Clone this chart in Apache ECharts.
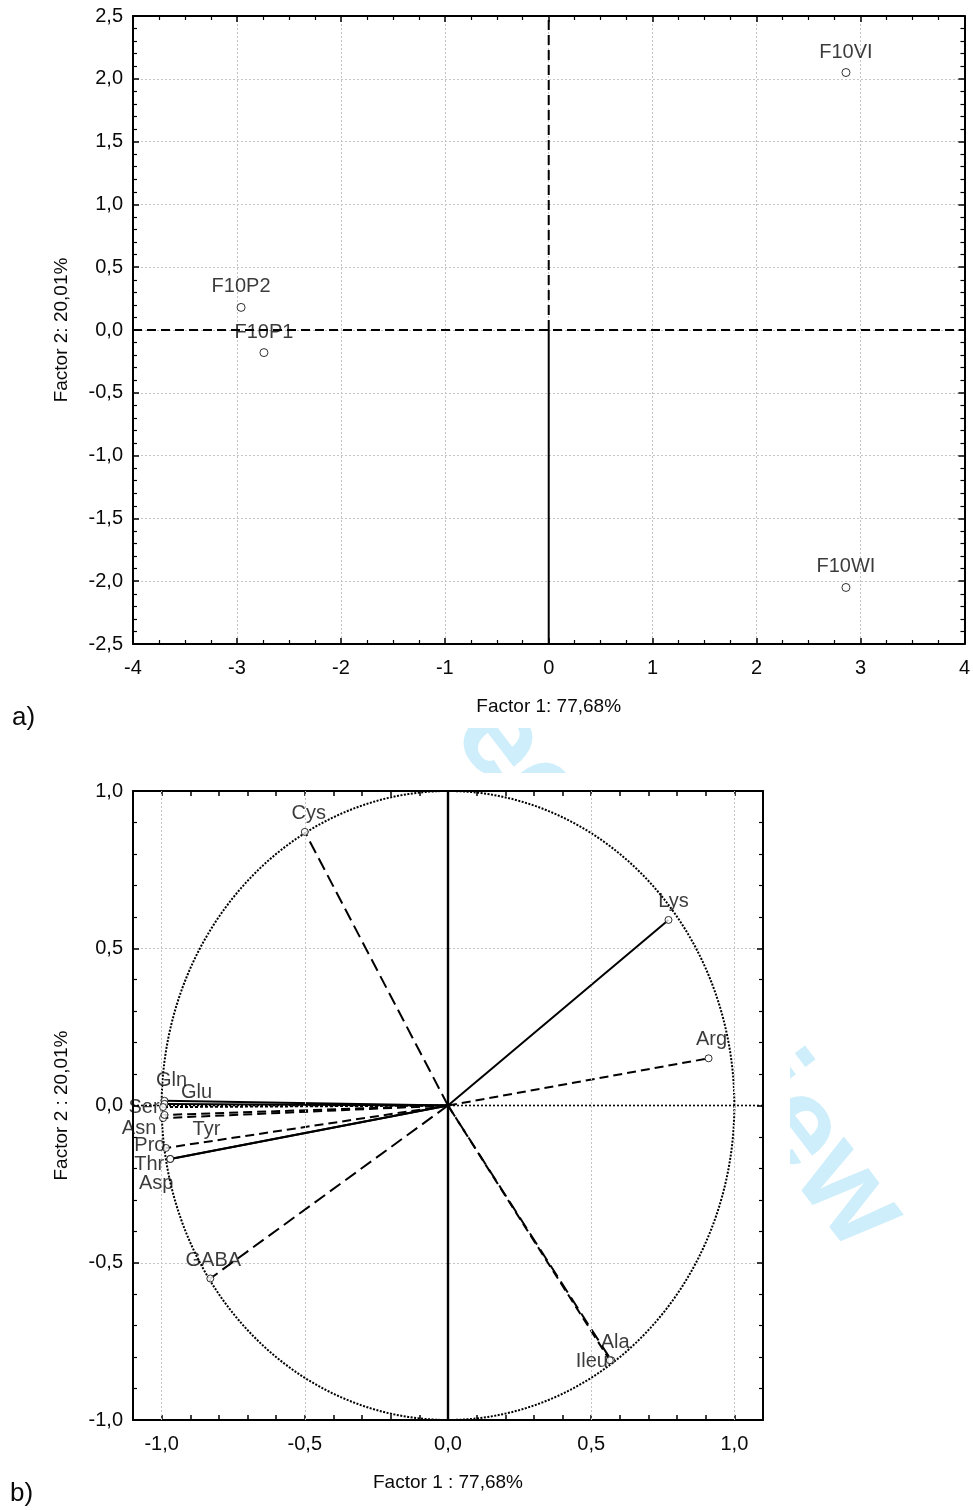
<!DOCTYPE html>
<html>
<head>
<meta charset="utf-8">
<script src="https://cdn.jsdelivr.net/npm/echarts@6/dist/echarts.min.js"></script>
<style>
  html, body { margin: 0; padding: 0; background: #fff; }
  #chart { width: 973px; height: 1510px; }
</style>
</head>
<body>
<div id="chart"></div>
<script>
// ---- Panel a: factor scores of the samples ----
const scoreNames = ['F10P2', 'F10P1', 'F10VI', 'F10WI'];
const scoreF1 = [-2.96, -2.74, 2.86, 2.86];
const scoreF2 = [0.18, -0.18, 2.05, -2.05];

// ---- Panel b: loadings of the amino acids ----
const varNames = ['Cys', 'Lys', 'Arg', 'Ala', 'Ileu', 'GABA', 'Gln', 'Glu', 'Ser', 'Asn', 'Tyr', 'Pro', 'Thr', 'Asp'];
const loadF1 = [-0.50, 0.77, 0.91, 0.57, 0.565, -0.83, -0.99, -0.99, -0.995, -0.995, -0.99, -0.985, -0.97, -0.97];
const loadF2 = [0.87, 0.59, 0.15, -0.81, -0.81, -0.55, 0.015, 0.005, -0.005, -0.04, -0.03, -0.135, -0.17, -0.17];

// Axis ranges and ticks
const xRangeA = [-4, 4], yRangeA = [-2.5, 2.5];
const xRangeB = [-1.1, 1.1], yRangeB = [-1, 1];
const xGridB = [-1, -0.5, 0.5, 1];

// Dash pattern of each loading vector
const vecDash = {
  Cys: [13, 6], Lys: 'solid', Arg: [9, 5], Ala: [13, 6], Ileu: [9, 5], GABA: [13, 6],
  Gln: 'solid', Glu: 'solid', Ser: [3, 2], Asn: [9, 5], Tyr: [9, 5], Pro: [9, 5], Thr: 'solid', Asp: 'solid'
};
// Label placement of each loading (offset from the marker centre)
const vecLabelOffset = {
  Cys: [4, -18], Lys: [5, -18], Arg: [3, -19], Ala: [4, -18], Ileu: [-18, 1], GABA: [3, -18],
  Gln: [7, -20], Glu: [32, -11], Ser: [-19, 0], Asn: [-24, 10], Tyr: [42, 15], Pro: [-16, -2],
  Thr: [-21, 6], Asp: [-14, 25]
};

const FONT = '"Liberation Sans", Arial, Helvetica, sans-serif';
const black = '#000';
const textColor = '#0a0a0a';
const gridLine = { show: true, lineStyle: { color: '#c4c4c4', type: [2, 2], width: 1 } };
const comma1 = v => v.toFixed(1).replace('.', ',');

function frame(extra) {
  return Object.assign({
    type: 'value',
    axisLine: { show: true, onZero: false, lineStyle: { color: black, width: 2 } },
    axisTick: { show: true, inside: true, length: 6, lineStyle: { color: black, width: 1.5 } },
    minorTick: { show: false },
    splitLine: { show: false },
    axisLabel: { show: false },
    nameTextStyle: { fontFamily: FONT, fontSize: 19, color: textColor }
  }, extra);
}
const tickLabel = (fmt, margin) => ({ show: true, formatter: fmt, fontFamily: FONT, fontSize: 20, color: textColor, margin: margin });
const minor = n => ({ show: true, splitNumber: n, length: 4, lineStyle: { color: black, width: 1.2 } });

const chart = echarts.init(document.getElementById('chart'), null, { renderer: 'canvas' });

const series = [];

// ----- panel a -----
series.push({
  type: 'line', xAxisIndex: 0, yAxisIndex: 0, z: 3, symbol: 'none', silent: true,
  lineStyle: { color: black, width: 2, type: [10, 5] },
  data: [[0, 0], [0, yRangeA[1]]]
});
series.push({
  type: 'line', xAxisIndex: 0, yAxisIndex: 0, z: 3, symbol: 'none', silent: true,
  lineStyle: { color: black, width: 2, type: 'solid' },
  data: [[0, yRangeA[0]], [0, 0]]
});
series.push({
  type: 'line', xAxisIndex: 0, yAxisIndex: 0, z: 3, symbol: 'none', silent: true,
  lineStyle: { color: black, width: 2, type: [9, 5] },
  data: [[xRangeA[0], 0], [xRangeA[1], 0]]
});
series.push({
  type: 'scatter', xAxisIndex: 0, yAxisIndex: 0, z: 6,
  symbol: 'circle', symbolSize: 8,
  itemStyle: { color: '#fff', borderColor: black, borderWidth: 1 },
  label: { show: true, position: 'top', distance: 6, fontFamily: FONT, fontSize: 20, color: textColor,
           formatter: p => scoreNames[p.dataIndex] },
  data: scoreF1.map((x, i) => [x, scoreF2[i]])
});

// ----- panel b -----
// horizontal zero line, plus dotted vertical grid lines at the labelled x ticks
series.push({
  type: 'line', xAxisIndex: 2, yAxisIndex: 2, z: 1, symbol: 'none', silent: true,
  lineStyle: { color: black, width: 1.6, type: [2, 2] },
  data: [[xRangeB[0], 0], [xRangeB[1], 0]],
  markLine: {
    silent: true, symbol: 'none', label: { show: false }, animation: false,
    lineStyle: { color: '#c4c4c4', type: [2, 2], width: 1 },
    data: xGridB.map(v => ({ xAxis: v }))
  }
});
series.push({
  type: 'line', xAxisIndex: 2, yAxisIndex: 2, z: 3, symbol: 'none', silent: true,
  lineStyle: { color: black, width: 2.4, type: 'solid' },
  data: [[0, yRangeB[0]], [0, yRangeB[1]]]
});
// unit correlation circle, drawn in data space through the axes
series.push({
  type: 'custom', xAxisIndex: 2, yAxisIndex: 2, z: 3, silent: true,
  data: [[0, 0]],
  renderItem: (params, api) => {
    const c = api.coord([0, 0]);
    const rx = api.coord([1, 0])[0] - c[0];
    const ry = c[1] - api.coord([0, 1])[1];
    const pts = [];
    for (let i = 0; i <= 360; i++) {
      const t = i * Math.PI / 180;
      pts.push([c[0] + rx * Math.cos(t), c[1] - ry * Math.sin(t)]);
    }
    return { type: 'polyline', shape: { points: pts },
             style: { stroke: black, lineWidth: 2, lineDash: [2, 1.5], fill: 'none' } };
  }
});
varNames.forEach((n, i) => {
  series.push({
    type: 'line', xAxisIndex: 2, yAxisIndex: 2, z: 4, symbol: 'none', silent: true,
    lineStyle: { color: black, width: 2, type: vecDash[n] },
    data: [[0, 0], [loadF1[i], loadF2[i]]]
  });
});
series.push({
  type: 'scatter', xAxisIndex: 2, yAxisIndex: 2, z: 6,
  symbol: 'circle', symbolSize: 7,
  itemStyle: { color: '#fff', borderColor: black, borderWidth: 1 },
  label: { show: true, position: 'inside', fontFamily: FONT, fontSize: 20, color: textColor,
           formatter: p => varNames[p.dataIndex] },
  data: varNames.map((n, i) => ({
    value: [loadF1[i], loadF2[i]],
    label: { offset: vecLabelOffset[n] }
  }))
});

const option = {
  animation: false,
  backgroundColor: '#fff',
  grid: [
    { left: 133, top: 16, width: 835, height: 628, show: true, backgroundColor: '#fff', borderWidth: 0 },
    { left: 133, top: 791, width: 630, height: 629, show: true, backgroundColor: '#fff', borderWidth: 0 }
  ],
  xAxis: [
    frame({ gridIndex: 0, position: 'bottom', min: xRangeA[0], max: xRangeA[1], interval: 1,
            minorTick: minor(4), splitLine: gridLine, axisLabel: tickLabel(v => String(v), 14),
            name: 'Factor 1: 77,68%', nameLocation: 'middle', nameGap: 53 }),
    frame({ gridIndex: 0, position: 'top', min: xRangeA[0], max: xRangeA[1], interval: 1,
            minorTick: minor(4) }),
    frame({ gridIndex: 1, position: 'bottom', min: xRangeB[0], max: xRangeB[1], interval: 0.1,
            axisTick: { show: true, inside: true, length: 5, lineStyle: { color: black, width: 1.5 } },
            axisLabel: tickLabel(v => (Math.abs(v * 2 - Math.round(v * 2)) < 1e-6 ? comma1(v) : ''), 14),
            name: 'Factor 1 : 77,68%', nameLocation: 'middle', nameGap: 53 }),
    frame({ gridIndex: 1, position: 'top', min: xRangeB[0], max: xRangeB[1], interval: 0.1,
            axisTick: { show: true, inside: true, length: 5, lineStyle: { color: black, width: 1.5 } } })
  ],
  yAxis: [
    frame({ gridIndex: 0, position: 'left', min: yRangeA[0], max: yRangeA[1], interval: 0.5,
            minorTick: minor(5), splitLine: gridLine, axisLabel: tickLabel(comma1, 10),
            name: 'Factor 2: 20,01%', nameLocation: 'middle', nameGap: 62, nameRotate: 90 }),
    frame({ gridIndex: 0, position: 'right', min: yRangeA[0], max: yRangeA[1], interval: 0.5,
            minorTick: minor(5) }),
    frame({ gridIndex: 1, position: 'left', min: yRangeB[0], max: yRangeB[1], interval: 0.5,
            minorTick: minor(5), splitLine: gridLine, axisLabel: tickLabel(comma1, 10),
            name: 'Factor 2 : 20,01%', nameLocation: 'middle', nameGap: 62, nameRotate: 90 }),
    frame({ gridIndex: 1, position: 'right', min: yRangeB[0], max: yRangeB[1], interval: 0.5,
            minorTick: minor(5) })
  ],
  graphic: [
    // faint watermark lying underneath the figure panels
    { type: 'text', z: -3, x: 580, y: 845, rotation: -52.5 * Math.PI / 180,
      style: { text: 'For Peer Review', font: 'bold 126px ' + FONT, fill: '#cdeefa',
               textAlign: 'center', textVerticalAlign: 'middle' } },
    { type: 'rect', z: -2, shape: { x: 0, y: 0, width: 973, height: 728 }, style: { fill: '#fff' } },
    { type: 'rect', z: -2, shape: { x: 0, y: 773, width: 790, height: 737 }, style: { fill: '#fff' } },
    { type: 'text', x: 12, y: 718, style: { text: 'a)', font: '26px ' + FONT, fill: textColor, textVerticalAlign: 'middle' } },
    { type: 'text', x: 10, y: 1494, style: { text: 'b)', font: '26px ' + FONT, fill: textColor, textVerticalAlign: 'middle' } }
  ],
  series: series
};
chart.setOption(option);
</script>
</body>
</html>
